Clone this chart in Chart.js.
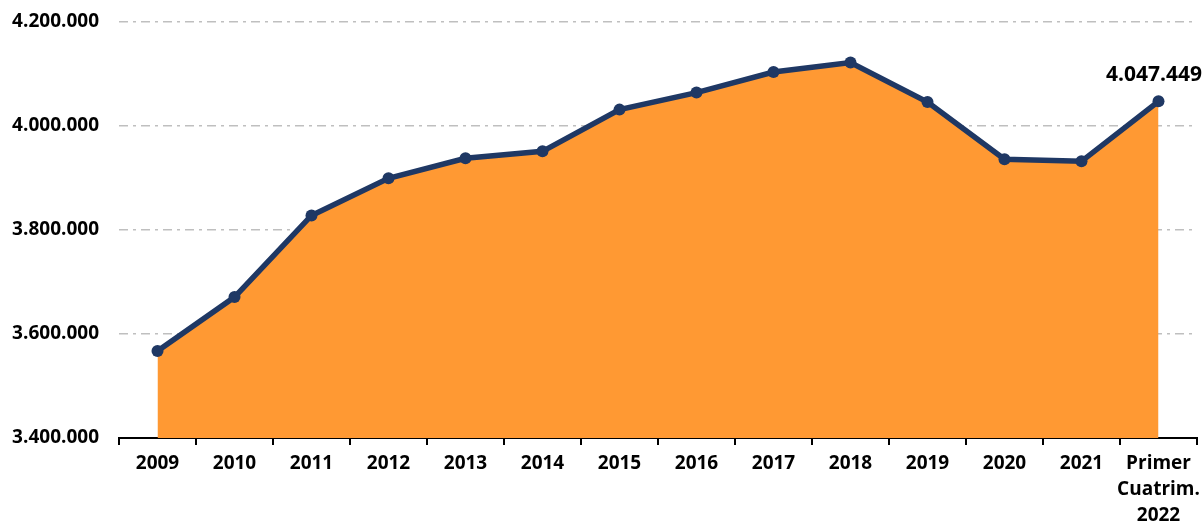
<!DOCTYPE html>
<html>
<head>
<meta charset="utf-8">
<script src="https://cdn.jsdelivr.net/npm/chart.js@4.4.1/dist/chart.umd.min.js"></script>
<style>
  html, body { margin: 0; padding: 0; background: #fff; }
  #wrap { width: 1203px; height: 522px; }
</style>
</head>
<body>
<div id="wrap"><canvas id="myChart"></canvas></div>
<script>
// data
var labels = ['2009', '2010', '2011', '2012', '2013', '2014', '2015', '2016',
    '2017', '2018', '2019', '2020', '2021', ['Primer', 'Cuatrim.', '2022']];
var values = [3567300, 3671000, 3828000, 3899400, 3937900, 3951300, 4031500,
    4064200, 4103800, 4121900, 4046100, 3936000, 3932100, 4047449];
var yMin = 3400000;
var yMax = 4200000;
var yStep = 200000;

function fmt(v) {
    return String(Math.round(v)).replace(/\B(?=(\d{3})+(?!\d))/g, '.');
}

var FONT = { family: "'Open Sans', sans-serif", size: 19, weight: 'bold', lineHeight: 1.35 };

// value label above the last point
var lastLabel = {
    id: 'lastLabel',
    afterDatasetsDraw: function(chart) {
        var ctx = chart.ctx;
        var meta = chart.getDatasetMeta(0);
        var i = values.length - 1;
        var pt = meta.data[i];
        var txt = fmt(values[i]);
        ctx.save();
        ctx.font = 'bold 21px "Open Sans", sans-serif';
        ctx.fillStyle = '#000';
        ctx.textAlign = 'center';
        ctx.textBaseline = 'alphabetic';
        var w = ctx.measureText(txt).width;
        var x = Math.min(pt.x, chart.width - w / 2 - 1);
        ctx.fillText(txt, x, pt.y - 20);
        ctx.restore();
    }
};

function createChart() {
    var ctx = document.getElementById('myChart').getContext('2d');
    new Chart(ctx, {
        type: 'line',
        data: {
            labels: labels,
            datasets: [{
                data: values,
                borderColor: '#1F3864',
                borderWidth: 5.5,
                backgroundColor: '#FF9933',
                fill: 'start',
                tension: 0,
                pointRadius: 6,
                pointBackgroundColor: '#1F3864',
                pointBorderColor: '#1F3864',
                pointBorderWidth: 0
            }]
        },
        options: {
            responsive: true,
            maintainAspectRatio: false,
            animation: false,
            layout: { padding: { top: 22, right: 0, left: 0, bottom: 0 } },
            plugins: {
                legend: { display: false },
                tooltip: { enabled: false }
            },
            scales: {
                x: {
                    offset: true,
                    afterFit: function(s) {
                        s.height = 84;
                        s.paddingRight = 1;
                        s.paddingLeft = 0;
                    },
                    grid: {
                        offset: true,
                        drawOnChartArea: false,
                        drawTicks: true,
                        tickLength: 7,
                        color: '#000',
                        lineWidth: 2
                    },
                    border: { display: true, color: '#000', width: 2 },
                    ticks: {
                        color: '#000',
                        font: FONT,
                        padding: 6,
                        maxRotation: 0,
                        autoSkip: false
                    }
                },
                y: {
                    min: yMin,
                    max: yMax,
                    afterFit: function(s) {
                        s.width = 119;
                        s.paddingTop = 0;
                        s.paddingBottom = 0;
                    },
                    grid: {
                        drawTicks: false,
                        lineWidth: 1.5,
                        color: function(c) {
                            return c.tick && c.tick.value === yMin ? 'rgba(0,0,0,0)' : '#BFBFBF';
                        }
                    },
                    border: { display: false, dash: [9, 5, 3, 5] },
                    ticks: {
                        stepSize: yStep,
                        color: '#000',
                        font: FONT,
                        padding: 20,
                        callback: function(v) { return fmt(v); }
                    }
                }
            }
        },
        plugins: [lastLabel]
    });
}
createChart();
</script>
</body>
</html>
